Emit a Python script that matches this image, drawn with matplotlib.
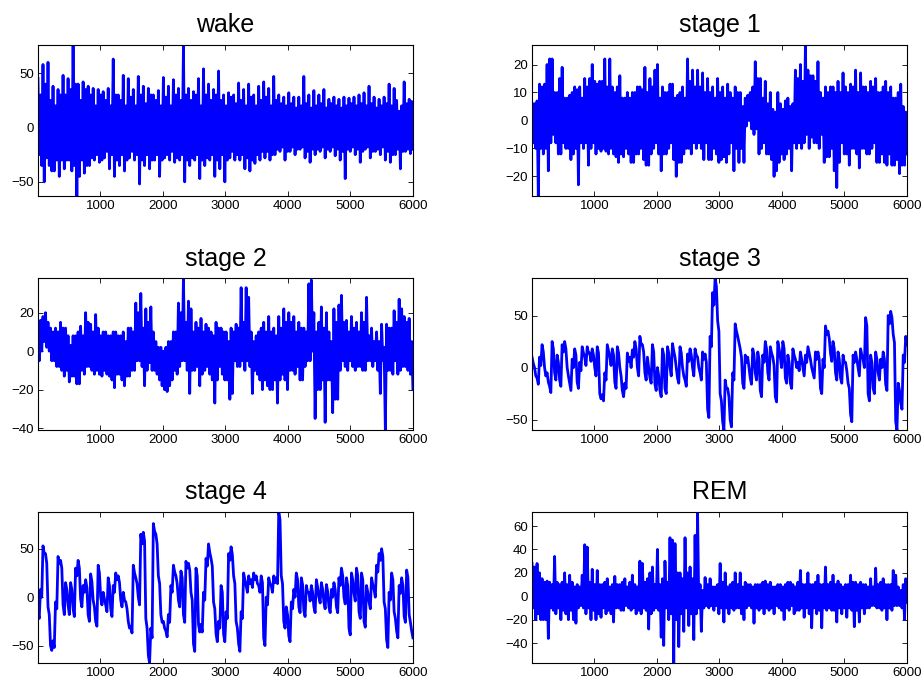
import numpy as np
import matplotlib.pyplot as plt

plt.rcParams['font.family'] = ['Liberation Sans', 'DejaVu Sans']

# Each trace is read off the reference as a local high and a local low
# at 150 evenly spaced positions over samples 1..6000.
wake_hi = [45, 30, 58, 40, 60, 25, 38, 20, 35, 30,
           48, 30, 45, 35, 76, 40, 40, 25, 42, 35,
           38, 30, 36, 20, 35, 30, 33, 25, 36, 20,
           63, 30, 30, 25, 48, 20, 45, 28, 35, 20,
           47, 30, 38, 22, 36, 30, 30, 25, 34, 20,
           46, 28, 38, 20, 44, 30, 36, 25, 75, 30,
           36, 25, 33, 30, 45, 20, 54, 30, 40, 25,
           35, 30, 52, 25, 30, 20, 32, 28, 30, 22,
           41, 25, 35, 20, 40, 28, 30, 20, 38, 25,
           42, 28, 36, 20, 47, 25, 30, 22, 28, 20,
           32, 22, 28, 18, 28, 20, 47, 22, 30, 18,
           34, 20, 30, 22, 35, 18, 26, 22, 28, 20,
           26, 18, 28, 20, 27, 22, 28, 20, 30, 22,
           32, 20, 38, 22, 28, 18, 26, 20, 28, 22,
           40, 20, 36, 25, 15, 20, 42, 22, 26, 24]
wake_lo = [-25, -35, -50, -28, -35, -40, -40, -30, -45, -30,
           -38, -30, -30, -40, -35, -63, -45, -30, -42, -35,
           -35, -28, -30, -25, -32, -30, -28, -22, -38, -25,
           -45, -30, -35, -25, -40, -30, -28, -22, -30, -25,
           -52, -30, -35, -25, -38, -30, -30, -25, -45, -30,
           -28, -25, -30, -22, -32, -28, -30, -25, -50, -30,
           -35, -28, -30, -25, -47, -30, -35, -28, -30, -25,
           -45, -30, -38, -25, -50, -30, -28, -22, -30, -25,
           -30, -25, -38, -28, -40, -30, -33, -25, -30, -22,
           -28, -22, -30, -25, -25, -20, -22, -18, -30, -22,
           -22, -18, -25, -20, -20, -18, -28, -22, -32, -20,
           -25, -20, -22, -18, -28, -20, -22, -18, -26, -20,
           -30, -22, -47, -20, -22, -18, -25, -20, -32, -22,
           -20, -18, -28, -22, -22, -20, -25, -18, -30, -22,
           -32, -25, -25, -20, -38, -22, -22, -20, -24, -20]

stage1_hi = [6, 6, 7, 13, 12, 13, 20, 22, 22, 10,
             10, 15, 19, 8, 8, 9, 10, 12, 11, 12,
             8, 15, 12, 15, 20, 14, 13, 14, 14, 22,
             12, 22, 12, 10, 12, 16, 8, 8, 10, 8,
             10, 10, 12, 12, 11, 19, 10, 15, 12, 18,
             20, 8, 12, 10, 10, 13, 13, 8, 9, 10,
             12, 8, 22, 14, 18, 12, 18, 12, 17, 10,
             15, 10, 12, 8, 15, 10, 12, 8, 13, 10,
             8, 12, 10, 10, 5, 8, 9, 10, 12, 21,
             15, 15, 8, 14, 6, 10, 4, 3, 10, 6,
             4, 7, 8, 5, 6, 18, 15, 20, 14, 27,
             18, 16, 16, 14, 21, 10, 8, 12, 10, 12,
             12, 10, 14, 10, 17, 12, 10, 13, 12, 18,
             10, 17, 12, 12, 10, 14, 12, 15, 10, 10,
             12, 14, 10, 12, 8, 8, 10, 13, 5, 3]
stage1_lo = [-8, -10, -27, -10, -12, -10, -18, -8, -5, -8,
             -12, -12, -8, -10, -10, -14, -12, -10, -23, -8,
             -10, -8, -16, -10, -8, -12, -10, -11, -10, -11,
             -12, -10, -12, -13, -15, -12, -13, -10, -12, -15,
             -15, -12, -12, -10, -14, -16, -16, -12, -10, -8,
             -12, -18, -12, -12, -10, -8, -14, -20, -15, -15,
             -12, -10, -10, -12, -8, -10, -8, -10, -14, -8,
             -14, -14, -10, -12, -15, -14, -13, -15, -12, -8,
             -18, -10, -15, -10, -15, -2, 0, -3, -5, -3,
             -12, -10, -8, -12, -12, -14, -20, -18, -15, -12,
             -14, -12, -10, -18, -8, -10, -8, -10, -8, -5,
             -10, -6, -8, -8, -10, -5, -15, -13, -13, -10,
             -18, -24, -15, -8, -12, -12, -16, -10, -10, -12,
             -17, -10, -10, -12, -12, -10, -8, -15, -15, -12,
             -15, -16, -12, -16, -16, -14, -19, -16, -16, -12]

stage2_hi = [12, 16, 18, 20, 15, 12, 10, 12, 10, 15,
             12, 12, 8, 3, 8, 8, 10, 13, 8, 20,
             15, 14, 10, 19, 12, 8, 10, 10, 8, 8,
             10, 10, 8, 8, 10, 5, 12, 12, 10, 25,
             20, 30, 12, 22, 15, 23, 10, 5, 2, 2,
             0, 2, 5, 5, 10, 10, 25, 20, 38, 15,
             26, 22, 10, 15, 12, 17, 10, 14, 12, 10,
             8, 15, 12, 12, 10, 10, 5, 12, 10, 14,
             12, 33, 15, 33, 28, 10, 5, 8, 10, 12,
             15, 10, 18, 10, 12, 8, 18, 12, 22, 15,
             20, 15, 18, 10, 15, 12, 12, 10, 35, 37,
             20, 10, 15, 23, 12, 20, 10, 5, 22, 15,
             24, 29, 15, 16, 10, 18, 12, 15, 10, 20,
             15, 28, 8, 12, 5, 10, 5, 14, 2, 14,
             12, 12, 21, 15, 27, 22, 18, 15, 17, 5]
stage2_lo = [-5, 0, 5, 2, 0, -5, -5, -8, -8, -10,
             -13, -10, -16, -13, -13, -17, -17, -10, -12, -8,
             -8, -10, -12, -10, -12, -13, -10, -12, -13, -15,
             -19, -12, -12, -15, -18, -13, -13, -10, -10, -5,
             -5, -8, -18, -10, -6, -10, -10, -12, -15, -18,
             -20, -21, -18, -15, -10, -12, -8, -5, -5, -10,
             -22, -10, -10, -8, -18, -12, -10, -8, -12, -15,
             -27, -15, -8, -12, -15, -15, -25, -22, -5, -8,
             -8, -5, -10, -5, -8, -22, -10, -12, -15, -20,
             -15, -18, -20, -20, -15, -27, -15, -12, -15, -20,
             -10, -10, -12, -8, -15, -15, -8, -5, -5, 0,
             -35, -20, -20, -15, -37, -15, -15, -32, -25, -25,
             -10, -5, -8, -10, -5, -8, -10, -8, -8, -10,
             -10, -5, -5, -8, -5, -10, -22, -5, -41, -10,
             -10, -12, -5, -12, -10, -8, -8, -10, -12, -20]

stage3_hi = [10, 0, -10, 10, 22, 0, -5, -18, 25, -5,
             12, -12, 22, 25, 0, -15, 8, 18, -14, 5,
             20, 10, 20, 14, 18, 0, 20, -25, -26, -5,
             22, 10, 18, -14, 20, 0, -22, -15, 14, 10,
             17, 25, 0, 30, 22, -5, 10, -10, 22, -16,
             0, -22, 18, -20, 20, 0, 23, 10, -10, 20,
             0, -12, 13, 18, 0, 18, 10, -5, 15, 13,
             -40, 30, 72, 86, 45, -25, -52, -12, -20, -50,
             -5, 42, 30, 18, -15, 12, 10, -10, 18, -5,
             15, -22, 12, 25, -5, 20, 10, -28, 25, 10,
             25, -10, 12, -15, 18, 8, 5, 15, 0, 12,
             20, 8, -5, 15, 15, -20, 8, 40, 35, 14,
             25, -5, 15, -10, 12, 5, -15, -45, 12, 15,
             0, 18, 8, 48, -25, 12, -20, 15, -5, 8,
             15, -16, 50, 54, 32, -52, -15, -34, 12, 30]
stage3_lo = [4, -8, -16, 2, 15, -8, -14, -24, 18, -12,
             5, -18, 15, 18, -8, -22, 0, 12, -20, -3,
             14, 2, 14, 6, 12, -8, 14, -30, -32, -12,
             16, 2, 12, -20, 14, -8, -28, -20, 6, 0,
             10, 18, -8, 22, 15, -12, 0, -15, 15, -22,
             -8, -28, 12, -25, 14, -8, 16, 0, -15, 14,
             -8, -18, 6, 12, -8, 12, 0, -12, 8, 5,
             -48, 20, 60, 78, 35, -32, -60, -20, -28, -57,
             -12, 35, 24, 10, -20, 5, 0, -16, 12, -12,
             8, -28, 5, 18, -12, 14, 2, -33, 18, 0,
             18, -15, 5, -20, 12, 0, -3, 8, -8, 5,
             14, 0, -10, 8, 8, -25, 0, 32, 28, 6,
             18, -12, 8, -15, 5, -3, -20, -52, 5, 8,
             -8, 12, 0, 40, -32, 5, -25, 8, -12, 0,
             8, -22, 42, 48, 24, -60, -22, -40, 5, 22]

stage4_hi = [-15, 8, 53, 45, -10, -50, -45, -5, 42, 38,
             -8, 15, -8, 15, -12, 30, 38, -2, 12, 18,
             -18, 24, -3, -25, 33, 0, 5, -8, 20, -12,
             12, 25, 22, -3, 5, -5, -25, -30, 33, 20,
             0, 65, 67, -22, -60, -32, 76, 65, 22, -18,
             -25, -35, -18, 12, 33, 22, -3, 27, -18, 37,
             35, 5, -48, 30, -28, -28, 5, 40, 55, 40,
             -5, -38, -25, 12, -38, -15, 45, 52, 22, -25,
             -48, -15, 25, 12, 22, 18, 25, 22, 12, 22,
             -42, 0, 20, 12, 22, 20, 88, 22, -25, -10,
             -40, -5, 8, 25, -10, 20, -14, 12, 5, 12,
             -10, 18, 0, 15, -5, 13, -10, 8, 15, -10,
             20, 30, 0, 20, -32, 25, 4, 30, -15, 25,
             -25, 12, -5, 20, 8, 33, 45, 50, -5, -44,
             5, 25, -15, -35, 12, 20, -20, 28, -18, -35]
stage4_lo = [-22, 0, 45, 35, -18, -55, -52, -12, 35, 30,
             -18, 8, -18, 8, -20, 22, 30, -10, 5, 10,
             -25, 16, -10, -30, 25, -8, -2, -15, 12, -20,
             5, 18, 15, -10, -3, -12, -32, -37, 25, 14,
             -8, 55, 58, -32, -68, -42, 68, 55, 14, -26,
             -32, -41, -26, 5, 26, 14, -10, 20, -26, 30,
             28, -3, -56, 22, -36, -36, -3, 32, 46, 32,
             -12, -46, -32, 5, -46, -22, 38, 44, 14, -32,
             -56, -22, 18, 5, 14, 10, 18, 14, 5, 15,
             -50, -8, 14, 5, 15, 14, 80, 14, -32, -18,
             -46, -12, 0, 18, -16, 13, -20, 5, -4, 5,
             -16, 10, -6, 8, -12, 6, -16, 0, 8, -16,
             12, 22, -7, 12, -39, 18, -4, 22, -22, 18,
             -31, 5, -12, 13, 0, 26, 38, 42, -12, -52,
             -3, 18, -22, -42, 4, 12, -26, 20, -26, -42]

rem_hi = [28, 25, 28, 20, 15, 12, 13, 12, 10, 34,
          12, 10, 12, 20, 10, 18, 12, 8, 10, 8,
          18, 44, 42, 12, 23, 10, 22, 10, 10, 12,
          15, 8, 10, 17, 10, 10, 12, 15, 8, 12,
          18, 10, 8, 30, 28, 12, 15, 20, 25, 10,
          40, 10, 15, 30, 12, 50, 48, 45, 20, 20,
          15, 50, 20, 25, 15, 52, 72, 10, 5, 16,
          10, 15, 8, 8, 10, 28, 12, 20, 8, 10,
          12, 20, 10, 20, 8, 12, 10, 10, 8, 10,
          10, 10, 12, 13, 10, 12, 8, 8, 10, 10,
          8, 10, 12, 12, 10, 8, 12, 22, 10, 10,
          20, 10, 10, 12, 18, 10, 10, 25, 10, 12,
          18, 10, 13, 10, 8, 10, 10, 18, 12, 12,
          10, 12, 10, 10, 8, 15, 8, 24, 10, 12,
          15, 10, 10, 10, 22, 18, 8, 5, 10, 15]
rem_lo = [-10, -20, -15, -20, -20, -20, -36, -10, -12, -15,
          -10, -20, -12, -15, -20, -12, -20, -23, -10, -8,
          -10, -15, -10, -20, -12, -20, -15, -18, -10, -15,
          -12, -15, -22, -10, -10, -12, -12, -8, -10, -12,
          -10, -15, -12, -15, -10, -12, -28, -15, -12, -10,
          -12, -35, -42, -10, -20, -15, -57, -20, -43, -15,
          -30, -10, -25, -15, -37, -15, -10, -30, -10, -8,
          -10, -8, -12, -8, -15, -10, -22, -10, -15, -10,
          -12, -10, -10, -15, -20, -10, -8, -10, -23, -10,
          -12, -10, -15, -10, -12, -10, -15, -8, -10, -12,
          -20, -10, -12, -8, -15, -12, -12, -10, -18, -10,
          -15, -27, -10, -15, -12, -27, -10, -12, -10, -12,
          -12, -22, -10, -15, -10, -18, -10, -12, -26, -12,
          -22, -10, -15, -10, -10, -8, -8, -10, -10, -12,
          -10, -20, -10, -12, -8, -8, -8, -10, -20, -5]

titles = ["wake", "stage 1", "stage 2", "stage 3", "stage 4", "REM"]
highs = [wake_hi, stage1_hi, stage2_hi, stage3_hi, stage4_hi, rem_hi]
lows = [wake_lo, stage1_lo, stage2_lo, stage3_lo, stage4_lo, rem_lo]
yticks = [[-50, 0, 50], [-20, -10, 0, 10, 20], [-40, -20, 0, 20],
          [-50, 0, 50], [-50, 0, 50], [-40, -20, 0, 20, 40, 60]]
xticks = [1000, 2000, 3000, 4000, 5000, 6000]

fig = plt.figure(figsize=(9.24, 6.8), dpi=100)

# axes boxes in figure fractions
lefts = [0.0411, 0.5758]
bottoms = [0.7118, 0.3676, 0.025]
heights = [0.2221, 0.2235, 0.2221]

for k in range(6):
    row, col = k // 2, k % 2
    ax = fig.add_axes([lefts[col], bottoms[row], 0.4058, heights[row]])
    # high, low, high, low ... in sample order
    y = np.column_stack([highs[k], lows[k]]).ravel().astype(float)
    x = np.linspace(1, 6000, len(y))
    ax.plot(x, y, color="#0000ff", linewidth=2.0)
    ax.set_xlim(1, 6000)
    ax.set_ylim(y.min(), y.max())
    ax.set_xticks(xticks)
    ax.set_yticks(yticks[k])
    ax.set_yticklabels([str(t).replace("-", "\u2212") for t in yticks[k]])
    ax.tick_params(direction="in", top=True, right=True, length=3.5,
                   width=0.6, labelsize=9.5, colors="black")
    ax.tick_params(axis="x", pad=3)
    ax.tick_params(axis="y", pad=3)
    for sp in ax.spines.values():
        sp.set_linewidth(0.8)
    ax.set_title(titles[k], fontsize=18, pad=9)

plt.savefig("out.png", dpi=100)
